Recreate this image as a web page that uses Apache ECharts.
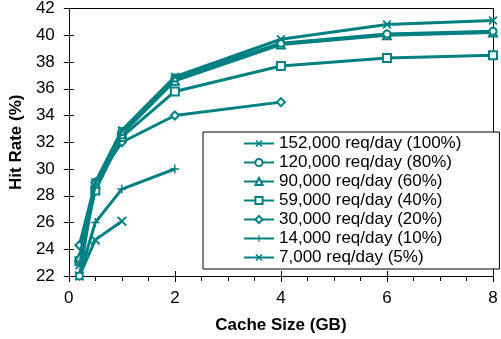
<!DOCTYPE html>
<html><head><meta charset="utf-8">
<script src="https://cdn.jsdelivr.net/npm/echarts@6/dist/echarts.min.js"></script>
<style>html,body{margin:0;padding:0;background:#fff}#c{width:501px;height:339px}</style>
</head><body><div id="c"></div>
<script>
const cacheSizes = [0.2, 0.5, 1, 2, 4, 6, 8];
const seriesNames = ['152,000 req/day (100%)','120,000 req/day (80%)','90,000 req/day (60%)','59,000 req/day (40%)','30,000 req/day (20%)','14,000 req/day (10%)','7,000 req/day (5%)'];
const hit152k = [22.8, 29.0, 32.9, 36.9, 39.7, 40.8, 41.1];
const hit120k = [22.0, 29.0, 32.8, 36.8, 39.4, 40.1, 40.3];
const hit90k  = [23.4, 28.9, 32.6, 36.6, 39.3, 40.0, 40.2];
const hit59k  = [23.1, 28.4, 32.4, 35.8, 37.7, 38.3, 38.5];
const hit30k  = [24.3, 29.0, 32.0, 34.0, 35.0];
const hit14k  = [22.0, 26.0, 28.5, 30.0];
const hit7k   = [22.0, 24.7, 26.1];
const yTicks = [22, 24, 26, 28, 30, 32, 34, 36, 38, 40, 42];
const xTicks = [0, 2, 4, 6, 8];

const C = '#008080';
const XPATH = 'path://M0,1.4L1.4,0L5,3.6L8.6,0L10,1.4L6.4,5L10,8.6L8.6,10L5,6.4L1.4,10L0,8.6L3.6,5Z';
const PLUS = 'path://M4.2,0H5.8V4.2H10V5.8H5.8V10H4.2V5.8H0V4.2H4.2Z';
const allData = [hit152k, hit120k, hit90k, hit59k, hit30k, hit14k, hit7k];
const symbols = [XPATH, 'emptyCircle', 'emptyTriangle', 'emptyRect', 'emptyDiamond', PLUS, XPATH];
const sizes = [9, 7, 8, 8, 8, 9, 10];
const FONT = 'Liberation Sans';

const series = allData.map((vals, i) => ({
  name: seriesNames[i],
  type: 'line',
  data: vals.map((v, j) => [cacheSizes[j], v]),
  symbol: symbols[i],
  symbolSize: sizes[i],
  showAllSymbol: true,
  z: 10 - i,
  lineStyle: { color: C, width: 3 },
  itemStyle: { color: C, borderColor: C, borderWidth: symbols[i].indexOf('empty') === 0 ? 1.5 : 0 },
  emphasis: { disabled: true },
  animation: false
}));

const chart = echarts.init(document.getElementById('c'), null, { renderer: 'canvas' });
chart.setOption({
  animation: false,
  grid: { left: 55, right: 8, top: 7, bottom: 61, containLabel: false },
  legend: {
    data: seriesNames,
    orient: 'vertical',
    left: 203, top: 132,
    padding: [2, 38, 2, 40],
    itemGap: 0,
    itemWidth: 30, itemHeight: 9,
    backgroundColor: '#fff',
    borderColor: '#000', borderWidth: 1,
    textStyle: { fontFamily: FONT, fontSize: 17, color: '#000', lineHeight: 19 },
    selectedMode: false
  },
  xAxis: [{
    type: 'value', min: 0, max: 8, interval: 2, position: 'bottom',
    name: 'Cache Size (GB)', nameLocation: 'middle', nameGap: 41,
    nameTextStyle: { fontFamily: FONT, fontSize: 17, fontWeight: 'bold', color: '#000' },
    axisLine: { show: true, onZero: false, lineStyle: { color: '#000', width: 1 } },
    axisTick: { show: true, inside: false, length: 6, lineStyle: { color: '#000' } },
    minorTick: { show: true, splitNumber: 4, length: 5, lineStyle: { color: '#000' } },
    axisLabel: { fontFamily: FONT, fontSize: 17, color: '#000', margin: 14,
      formatter: v => xTicks.indexOf(v) >= 0 ? String(v) : '' },
    splitLine: { show: false }
  }, {
    type: 'value', min: 0, max: 8, interval: 2, position: 'bottom',
    axisLine: { show: false, onZero: false },
    axisTick: { show: true, inside: true, length: 5, lineStyle: { color: '#000' } },
    axisLabel: { show: false }, splitLine: { show: false }
  }, {
    type: 'value', min: 0, max: 8, interval: 2, position: 'top',
    axisLine: { show: true, onZero: false, lineStyle: { color: '#000' } },
    axisTick: { show: false }, axisLabel: { show: false }, splitLine: { show: false }
  }],
  yAxis: [{
    type: 'value', min: 22, max: 42, interval: 2, position: 'left',
    name: 'Hit Rate (%)', nameLocation: 'middle', nameGap: 40,
    nameTextStyle: { fontFamily: FONT, fontSize: 17, fontWeight: 'bold', color: '#000' },
    axisLine: { show: true, onZero: false, lineStyle: { color: '#000', width: 1 } },
    axisTick: { show: true, inside: false, length: 5, lineStyle: { color: '#000' } },
    axisLabel: { fontFamily: FONT, fontSize: 17, color: '#000', margin: 14,
      formatter: v => yTicks.indexOf(v) >= 0 ? String(v) : '' },
    splitLine: { show: false }
  }, {
    type: 'value', min: 22, max: 42, interval: 2, position: 'left',
    axisLine: { show: false, onZero: false },
    axisTick: { show: true, inside: true, length: 5, lineStyle: { color: '#000' } },
    axisLabel: { show: false }, splitLine: { show: false }
  }, {
    type: 'value', min: 22, max: 42, interval: 2, position: 'right',
    axisLine: { show: true, onZero: false, lineStyle: { color: '#000' } },
    axisTick: { show: false }, axisLabel: { show: false }, splitLine: { show: false }
  }],
  series: series
});
</script></body></html>
